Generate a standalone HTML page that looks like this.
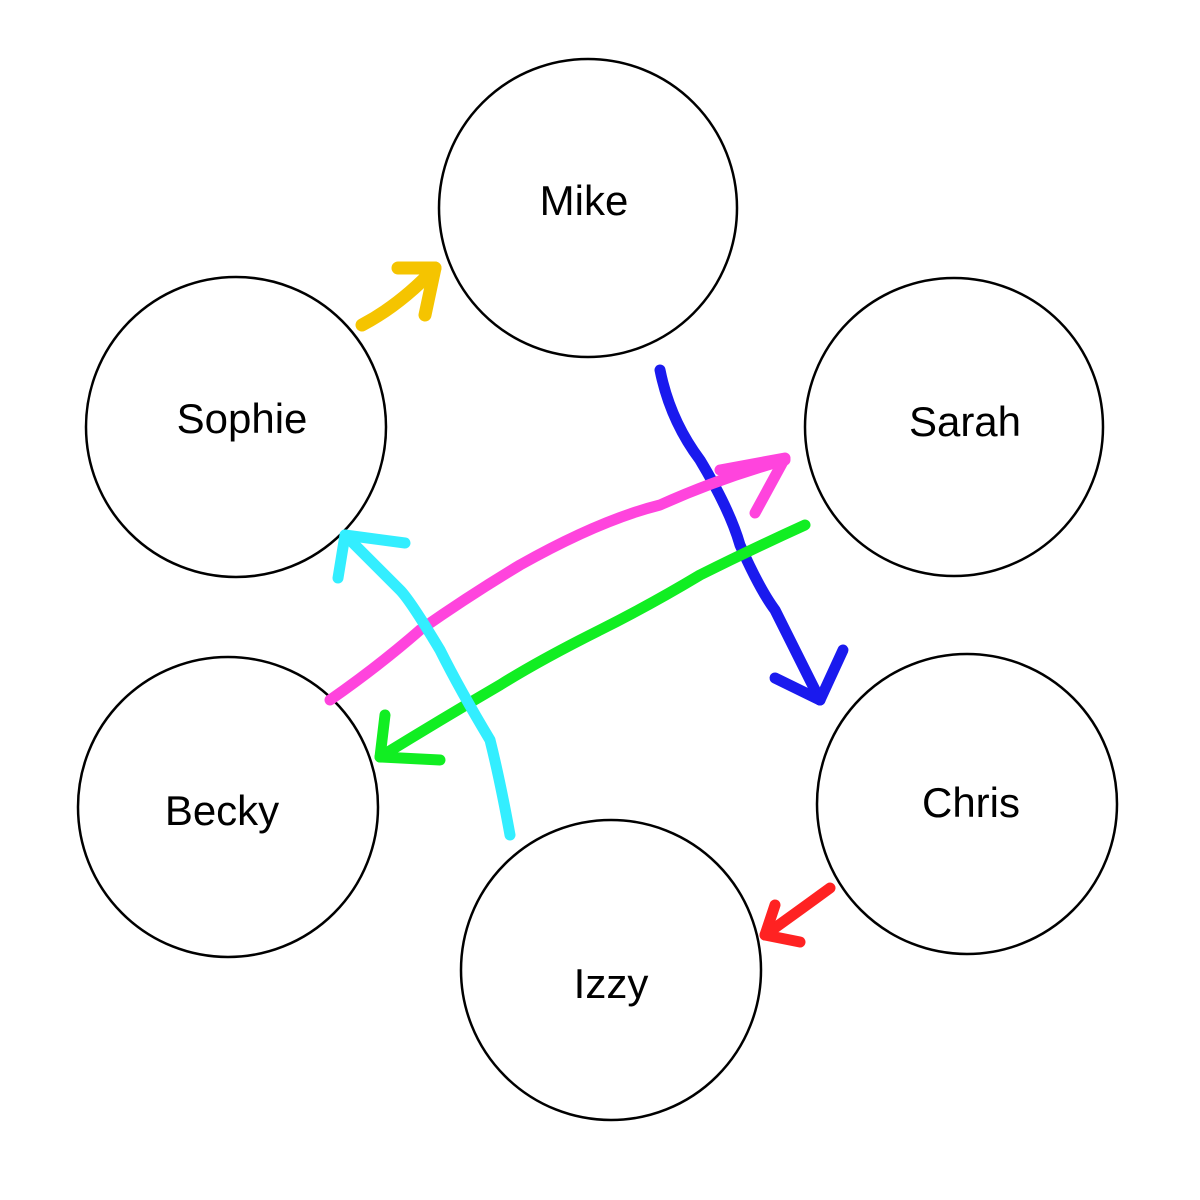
<!DOCTYPE html>
<html><head><meta charset="utf-8"><style>
html,body{margin:0;padding:0;background:#fff;}
svg{display:block}
text{font-family:"Liberation Sans",sans-serif;font-size:42px;fill:#000;text-anchor:middle;dominant-baseline:middle}
</style></head><body>
<svg width="1200" height="1200" viewBox="0 0 1200 1200">
<g fill="none" stroke="#000" stroke-width="2.5">
<circle cx="588" cy="208" r="149"/>
<circle cx="236" cy="427" r="150"/>
<circle cx="954" cy="427" r="149"/>
<circle cx="228" cy="807" r="150"/>
<circle cx="967" cy="804" r="150"/>
<circle cx="611" cy="970" r="150"/>
</g>
<text x="584" y="204">Mike</text>
<text x="242" y="422">Sophie</text>
<text x="965" y="425">Sarah</text>
<text x="222" y="814">Becky</text>
<text x="971" y="806">Chris</text>
<text x="611" y="987">Izzy</text>
<g fill="none" stroke-linecap="round" stroke-linejoin="round">
<g stroke="#f5c400" stroke-width="13">
<path d="M362 325 Q400 305 435 268"/>
<path d="M398 268 L435 268 L425 315"/>
</g>
<g stroke="#1a1aee" stroke-width="11">
<path d="M660 370 Q670 420 700 460 Q730 510 740 545 Q760 590 775 610 Q800 660 820 700"/>
<path d="M775 678 L820 700 L843 650"/>
</g>
<g stroke="#ff44dd" stroke-width="11">
<path d="M330 700 Q380 665 420 630 Q470 595 520 565 Q600 520 660 505 Q720 478 785 460"/>
<path d="M720 470 L785 458 L755 513"/>
</g>
<g stroke="#11ee22" stroke-width="11">
<path d="M805 525 Q750 550 700 575 Q650 605 600 630 Q540 660 500 685 Q440 720 380 757"/>
<path d="M385 715 L380 757 L440 760"/>
</g>
<g stroke="#33eeff" stroke-width="11">
<path d="M510 835 Q500 780 490 740 Q460 690 440 650 Q410 600 400 590 Q370 560 345 535"/>
<path d="M338 578 L345 535 L405 543"/>
</g>
<g stroke="#ff2222" stroke-width="11">
<path d="M830 888 Q800 910 765 935"/>
<path d="M775 905 L765 935 L800 942"/>
</g>
</g>
</svg>
</body></html>
